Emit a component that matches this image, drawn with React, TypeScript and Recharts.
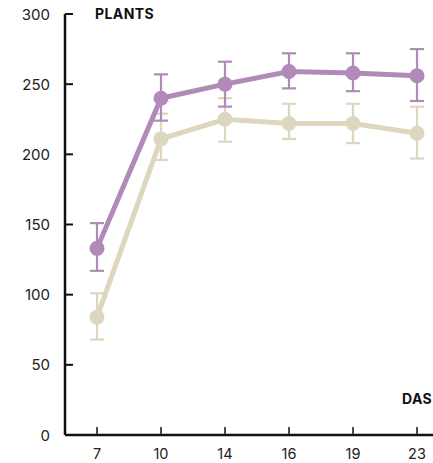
import React from "react";
import { LineChart, Line, XAxis, YAxis, ErrorBar } from "recharts";

const days = ["7", "10", "14", "16", "19", "23"];
const yTicks = [0, 50, 100, 150, 200, 250, 300];

// purple series
const purpleMean = [133, 240, 250, 259, 258, 256];
const purpleLow = [117, 224, 234, 247, 245, 238];
const purpleHigh = [151, 257, 266, 272, 272, 275];

// beige series
const beigeMean = [84, 211, 225, 222, 222, 215];
const beigeLow = [68, 196, 209, 211, 208, 197];
const beigeHigh = [101, 229, 240, 236, 236, 234];

const PURPLE = "#b18ab9";
const BEIGE = "#ddd7bf";
const INK = "#111111";
const FONT = "Inter, 'Noto Sans', sans-serif";

const data = days.map((d, i) => ({
  day: d,
  purple: purpleMean[i],
  purpleErr: [purpleMean[i] - purpleLow[i], purpleHigh[i] - purpleMean[i]],
  beige: beigeMean[i],
  beigeErr: [beigeMean[i] - beigeLow[i], beigeHigh[i] - beigeMean[i]],
}));

function YTick(props: any) {
  const { x, y, payload } = props;
  return (
    <g>
      <line x1={x} y1={y} x2={x + 8} y2={y} stroke={INK} strokeWidth={2} />
      <text
        x={x - 15}
        y={y}
        dy={5.5}
        textAnchor="end"
        fill="#222"
        fontSize={15}
        fontFamily={FONT}
      >
        {payload.value}
      </text>
    </g>
  );
}

function XTick(props: any) {
  const { x, y, payload } = props;
  return (
    <g>
      <line x1={x} y1={y} x2={x} y2={y - 8} stroke={INK} strokeWidth={1.5} />
      <text
        x={x}
        y={y + 24}
        textAnchor="middle"
        fill="#222"
        fontSize={14.5}
        fontFamily={FONT}
      >
        {payload.value}
      </text>
    </g>
  );
}

export default function App() {
  return (
    <div
      style={{
        position: "absolute",
        left: 0,
        top: 0,
        width: 433,
        height: 463,
        overflow: "hidden",
        background: "#fff",
      }}
    >
      <LineChart
        width={460}
        height={463}
        data={data}
        margin={{ top: 14, right: 11, bottom: 0, left: 0 }}
      >
        <XAxis
          dataKey="day"
          height={28}
          padding={{ left: 32, right: 32 }}
          tickSize={0}
          tickMargin={0}
          tickLine={false}
          axisLine={{ stroke: INK, strokeWidth: 2.5 }}
          tick={<XTick />}
        />
        <YAxis
          width={65}
          domain={[0, 300]}
          ticks={yTicks}
          tickSize={0}
          tickMargin={0}
          tickLine={false}
          axisLine={{ stroke: INK, strokeWidth: 2.5 }}
          tick={<YTick />}
        />
        <Line
          dataKey="beige"
          stroke={BEIGE}
          strokeWidth={5}
          dot={{ r: 7.5, fill: BEIGE, stroke: "none" }}
          activeDot={false}
          isAnimationActive={false}
        >
          <ErrorBar dataKey="beigeErr" width={7} stroke={BEIGE} strokeWidth={2.2} />
        </Line>
        <Line
          dataKey="purple"
          stroke={PURPLE}
          strokeWidth={5}
          dot={{ r: 7.5, fill: PURPLE, stroke: "none" }}
          activeDot={false}
          isAnimationActive={false}
        >
          <ErrorBar dataKey="purpleErr" width={7} stroke={PURPLE} strokeWidth={2.2} />
        </Line>
      </LineChart>
      <svg
        width={433}
        height={463}
        style={{ position: "absolute", left: 0, top: 0, pointerEvents: "none" }}
      >
        <text x={95} y={18.5} fontSize={14} fontWeight={700} fill={INK} fontFamily={FONT} letterSpacing={0.4}>
          PLANTS
        </text>
        <text x={402} y={404} fontSize={14} fontWeight={700} fill={INK} fontFamily={FONT} letterSpacing={0.4}>
          DAS
        </text>
      </svg>
    </div>
  );
}
